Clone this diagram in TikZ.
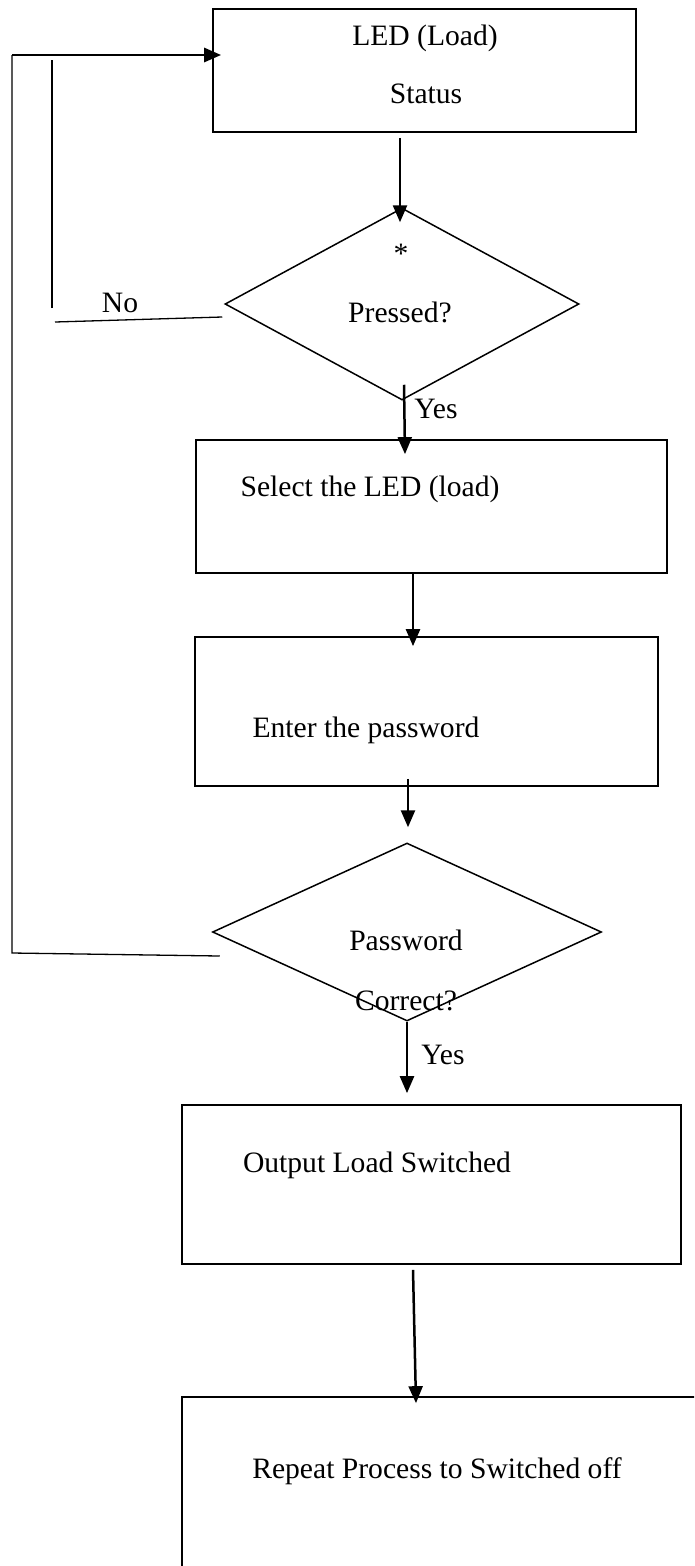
\documentclass[tikz,border=0pt]{standalone}
\usepackage{fontspec}
\setmainfont{Liberation Serif}
\usetikzlibrary{arrows.meta,shapes.geometric}
\begin{document}
\begin{tikzpicture}[x=1pt,y=-1pt,
  box/.style={draw,line width=1.7pt,inner sep=0pt,rectangle},
  dia/.style={draw,line width=1.5pt,inner sep=0pt,diamond},
  txt/.style={anchor=base,inner sep=0pt,font=\fontsize{29.6}{35}\selectfont},
  arr/.style={line width=2.5pt,-{Triangle[length=17pt,width=14pt]}},
  thinline/.style={line width=1.3pt}]
\useasboundingbox (0,0) rectangle (694,1566);
\clip (0,0) rectangle (694,1566);
\fill[white] (0,0) rectangle (694,1566);

% shapes
\node[box,minimum width=423pt,minimum height=123pt] (b1) at (424.5,70.5) {};
\node[dia,minimum width=354pt,minimum height=192pt] (d1) at (402,304) {};
\node[box,minimum width=471pt,minimum height=133pt] (b2) at (431.5,506.5) {};
\node[box,minimum width=463pt,minimum height=149pt] (b3) at (426.5,711.5) {};
\node[dia,minimum width=389pt,minimum height=178pt] (d2) at (407,932) {};
\node[box,minimum width=499pt,minimum height=159pt] (b4) at (431.5,1184.5) {};
\node[box,minimum width=560pt,minimum height=300pt] (b5) at (462,1547) {};

% texts
\node[txt] (t1a) at (425,45) {LED (Load)};
\node[txt] (t1b) at (426,103) {Status};
\node[txt] (t2a) at (401,263) {*};
\node[txt] (t2b) at (400,322) {Pressed?};
\node[txt] (tno) at (120,312) {No};
\node[txt] (ty1) at (436,418) {Yes};
\node[txt] (t3) at (370,496) {Select the LED (load)};
\node[txt] (t4) at (366,737) {Enter the password};
\node[txt] (t5a) at (406,950) {Password};
\node[txt] (t5b) at (406,1010) {Correct?};
\node[txt] (ty2) at (443,1064) {Yes};
\node[txt] (t6) at (377,1172) {Output Load Switched};
\node[txt] (t7) at (437,1478) {Repeat Process to Switched off};

% main flow arrows
\draw[arr] ([xshift=-24.5pt,yshift=-5pt]b1.south) -- ([xshift=-2pt,yshift=-15pt]d1.north);
\draw[arr] ([xshift=2pt,yshift=16pt]d1.south) -- ([xshift=-26.5pt,yshift=-15pt]b2.north);
\draw[arr] ([xshift=-18.5pt]b2.south) -- ([xshift=-13.5pt,yshift=-10pt]b3.north);
\draw[arr] ([xshift=-18.5pt,yshift=8pt]b3.south) -- ([xshift=1pt,yshift=15pt]d2.north);
\draw[arr] (d2.south) -- ([xshift=-24.5pt,yshift=11pt]b4.north);
\draw[arr] ([xshift=-18.5pt,yshift=-5pt]b4.south) -- ([xshift=-46pt,yshift=-7pt]b5.north west -| b5.north);

% loop back from "Password Correct?"
\coordinate (c1) at (12,55);
\coordinate (c2) at (12,953);
\draw[thinline] ([xshift=8pt,yshift=-24pt]d2.west) -- (c2) -- (c1);
\draw[arr,line width=2.8pt,shorten >=-9pt] (c1) -- (c1 -| b1.west);

% "No" branch lines
\coordinate (n1) at (55,322);
\coordinate (n2) at (52,308);
\coordinate (n3) at (52,60);
\draw[thinline] ([xshift=-2pt,yshift=-13pt]d1.west) -- (n1);
\draw[thinline] (n2) -- (n3);
\end{tikzpicture}
\end{document}
